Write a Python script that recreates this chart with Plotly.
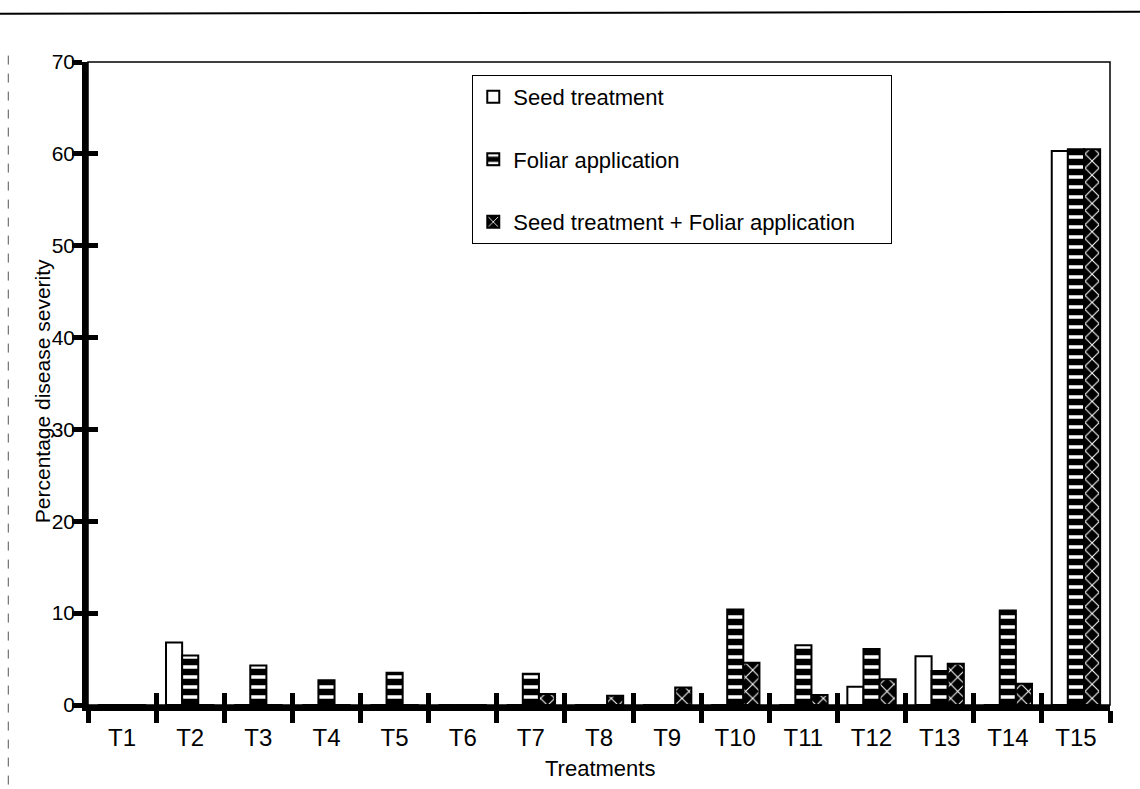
import plotly.graph_objects as go

treatments = ["T1", "T2", "T3", "T4", "T5", "T6", "T7", "T8", "T9", "T10",
              "T11", "T12", "T13", "T14", "T15"]
seed_treatment = [0, 6.8, 0, 0, 0, 0, 0, 0, 0, 0, 0, 2.0, 5.3, 0, 60.3]
foliar_application = [0, 5.4, 4.3, 2.7, 3.5, 0, 3.4, 0, 0, 10.4, 6.5, 6.1, 3.7, 10.3, 60.5]
seed_plus_foliar = [0, 0, 0, 0, 0, 0, 1.2, 1.0, 1.9, 4.6, 1.1, 2.8, 4.5, 2.3, 60.5]
y_ticks = [0, 10, 20, 30, 40, 50, 60, 70]

FONT = "Liberation Sans, Arial, sans-serif"
PAD = "\u00a0" * 5

fig = go.Figure()
fig.add_trace(go.Bar(
    x=treatments, y=seed_treatment, name="Seed treatment",
    legendgroup="a",
    marker=dict(color="white", line=dict(color="black", width=2)),
))
fig.add_trace(go.Bar(
    x=treatments, y=foliar_application, name="Foliar application",
    legendgroup="b",
    marker=dict(color="black", line=dict(color="black", width=2),
                pattern=dict(shape="-", fgcolor="white", bgcolor="black",
                             fillmode="replace", size=10, solidity=0.35)),
))
fig.add_trace(go.Bar(
    x=treatments, y=seed_plus_foliar, name="Seed treatment + Foliar application" + PAD,
    legendgroup="c",
    marker=dict(color="black", line=dict(color="black", width=2),
                pattern=dict(shape="x", fgcolor="white", bgcolor="black",
                             fillmode="replace", size=10, solidity=0.2)),
))
# helper trace on overlay axes (for inside tick marks)
fig.add_trace(go.Scatter(
    x=treatments, y=seed_treatment, xaxis="x2", yaxis="y2",
    mode="markers", marker=dict(opacity=0), showlegend=False, hoverinfo="skip",
))

fig.update_layout(
    width=1140, height=789,
    margin=dict(l=88, r=30, t=62, b=84),
    paper_bgcolor="white", plot_bgcolor="white",
    font=dict(family=FONT, color="black", size=20),
    barmode="group", bargap=0.29, bargroupgap=0,
    showlegend=True,
    legend=dict(
        x=0.376, y=0.98, xanchor="left", yanchor="top",
        bordercolor="black", borderwidth=1, bgcolor="white",
        font=dict(size=22, family=FONT, color="black"),
        tracegroupgap=31, traceorder="grouped",
    ),
    xaxis=dict(
        type="category", range=[-0.5, 14.5], anchor="y",
        showline=True, linecolor="black", linewidth=6,
        ticks="outside", tickson="boundaries", ticklen=12, tickwidth=5, tickcolor="black",
        tickfont=dict(size=24, family=FONT, color="black"),
        ticklabelstandoff=6,
        showgrid=False, zeroline=False, fixedrange=True,
    ),
    yaxis=dict(
        range=[0, 70], tickvals=y_ticks, anchor="x",
        showline=True, linecolor="black", linewidth=6,
        ticks="outside", ticklen=10, tickwidth=5, tickcolor="black",
        showticklabels=False,
        showgrid=False, zeroline=False, fixedrange=True,
    ),
    xaxis2=dict(
        type="category", range=[-0.5, 14.5], overlaying="x", side="bottom", anchor="y",
        showline=False, ticks="inside", tickson="boundaries", ticklen=12, tickwidth=5,
        tickcolor="black", showticklabels=False, showgrid=False, zeroline=False,
        fixedrange=True,
    ),
    yaxis2=dict(
        range=[0, 70], tickvals=y_ticks, overlaying="y", side="left", anchor="x",
        showline=False, ticks="inside", ticklen=10, tickwidth=5, tickcolor="black",
        showticklabels=True, ticklabelstandoff=12,
        tickfont=dict(size=21, family=FONT, color="black"),
        showgrid=False, zeroline=False, fixedrange=True,
    ),
    shapes=[
        dict(type="rect", xref="paper", yref="paper", x0=0, y0=0, x1=1, y1=1,
             line=dict(color="black", width=1.5), layer="below"),
        dict(type="line", xref="paper", yref="paper", x0=-0.09, x1=1.03,
             y0=1.075, y1=1.078, line=dict(color="black", width=2)),
        dict(type="line", xref="paper", yref="paper", x0=-0.078, x1=-0.078,
             y0=1.01, y1=-0.13, line=dict(color="#555", width=1, dash="dash")),
    ],
    annotations=[
        dict(text="Percentage disease severity", xref="paper", yref="paper",
             x=-0.045, y=0.488, xanchor="center", yanchor="middle",
             textangle=-90, showarrow=False,
             font=dict(size=21, family=FONT, color="black")),
        dict(text="Treatments", xref="paper", yref="paper",
             x=0.501, y=-0.098, xanchor="center", yanchor="middle",
             showarrow=False, font=dict(size=22, family=FONT, color="black")),
    ],
)

fig.write_html("out.html")
